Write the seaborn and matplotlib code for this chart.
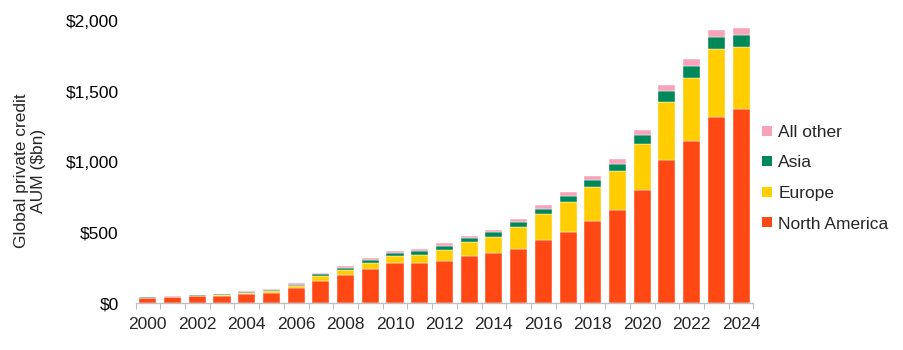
import matplotlib
matplotlib.use("Agg")
import matplotlib.pyplot as plt
import seaborn as sns
import numpy as np
from matplotlib.lines import Line2D
from matplotlib.ticker import FixedLocator

years = [str(y) for y in range(2000, 2025)]
north_america = [37, 44, 52, 55, 67, 74, 110, 161, 201, 244, 286, 286, 303, 336, 357,
                 383, 449, 508, 583, 663, 804, 1016, 1148, 1323, 1377]
europe = [3, 3, 4, 6, 9, 12, 14, 33, 38, 44, 50, 59, 75, 99, 115,
          160, 186, 209, 241, 273, 325, 410, 448, 478, 436]
asia = [3, 2, 1, 3, 6, 9, 9, 14, 14, 19, 23, 24, 30, 30, 33,
        35, 35, 45, 50, 55, 62, 76, 85, 89, 85]
all_other = [2, 2, 2, 2, 5, 7, 12, 10, 12, 14, 14, 16, 17, 14, 14,
             19, 24, 24, 27, 30, 35, 42, 47, 48, 54]

series_names = ["North America", "Europe", "Asia", "All other"]
series_values = [north_america, europe, asia, all_other]
colors = ["#FF4814", "#FFCD00", "#00875A", "#F8A3B9"]
tick_labels = ["$0", "$500", "$1,000", "$1,500", "$2,000"]
tick_values = [0, 500, 1000, 1500, 2000]

sns.set_style("white")
plt.rcParams["font.family"] = ["Liberation Sans", "DejaVu Sans"]

fig = plt.figure(figsize=(9.04, 3.5), dpi=100)
ax = fig.add_axes([0.1499, 0.1329, 0.6835, 0.807])

bottom = np.zeros(len(years))
for name, vals, col in zip(series_names, series_values, colors):
    sns.barplot(x=years, y=vals, bottom=bottom.copy(), color=col, width=0.69,
                edgecolor="white", linewidth=0.3, saturation=1, ax=ax, label=name)
    bottom += np.array(vals)

ax.set_xlim(-0.5, len(years) - 0.5)
ax.set_ylim(0, 2000)
ax.set_yticks(tick_values)
ax.set_yticklabels(tick_labels)
ax.set_xticks(range(0, len(years), 2))
ax.set_xticklabels(years[::2])
ax.xaxis.set_minor_locator(FixedLocator(np.arange(-0.5, len(years), 1)))

ax.tick_params(axis="y", length=0, pad=12, labelsize=12.5, colors="black")
ax.tick_params(axis="x", which="major", length=0, pad=10, labelsize=12.5)
ax.tick_params(axis="x", which="minor", length=4, width=0.8, color="#BFBFBF", bottom=True)

for s in ["top", "right", "left"]:
    ax.spines[s].set_visible(False)
ax.spines["bottom"].set_color("#BFBFBF")
ax.spines["bottom"].set_linewidth(1.0)

ax.set_xlabel("")
ax.set_ylabel("Global private credit\nAUM ($bn)", fontsize=12.5, linespacing=1.15)
ax.yaxis.set_label_coords(-0.145, 0.469)

if ax.legend_:
    ax.legend_.remove()
handles = [Line2D([0], [0], marker="s", linestyle="", markersize=7.5, color=c, markeredgewidth=0)
           for c in colors[::-1]]
fig.legend(handles, series_names[::-1], loc="upper left", bbox_to_anchor=(0.835, 0.664),
           frameon=False, fontsize=12.5, handlelength=0.6, handletextpad=0.35,
           labelspacing=0.89, borderaxespad=0)

fig.savefig("out.png", dpi=100)
